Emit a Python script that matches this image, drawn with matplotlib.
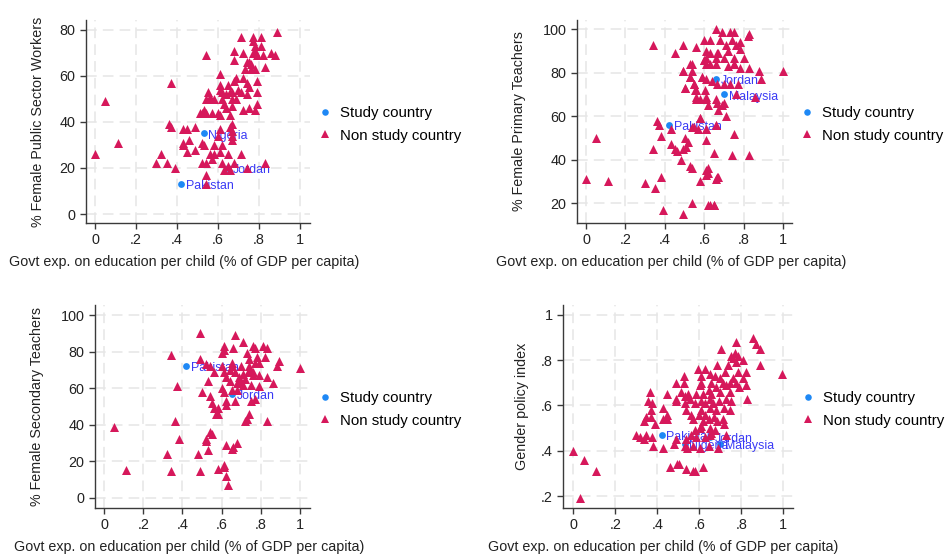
import numpy as np
import matplotlib
matplotlib.use('Agg')
import matplotlib.pyplot as plt
from matplotlib.lines import Line2D

plt.rcParams['font.family'] = ['Liberation Sans', 'DejaVu Sans']

XLABEL = 'Govt exp. on education per child (% of GDP per capita)'
XTICKS = [0, 0.2, 0.4, 0.6, 0.8, 1]
XTICKLABELS = ['0', '.2', '.4', '.6', '.8', '1']

# panel 1: female public sector workers
pub_x = [0, 0.05, 0.11, 0.30, 0.32, 0.35, 0.39, 0.36, 0.37, 0.37, 0.43, 0.45, 0.49, 0.43, 0.43,
         0.46, 0.45, 0.49, 0.52, 0.53, 0.52, 0.54, 0.54, 0.54, 0.54, 0.56, 0.58, 0.57, 0.58, 0.61,
         0.61, 0.60, 0.62, 0.62, 0.63, 0.65, 0.65, 0.66, 0.67, 0.67, 0.67, 0.66, 0.67, 0.68, 0.71,
         0.74, 0.83,
         0.52, 0.53, 0.54, 0.57, 0.60, 0.61, 0.66, 0.54, 0.56, 0.56, 0.55, 0.58, 0.61, 0.61, 0.61,
         0.62, 0.63, 0.64, 0.64, 0.65, 0.66, 0.67, 0.67, 0.68, 0.69, 0.69, 0.70, 0.71, 0.72, 0.72,
         0.74, 0.74, 0.75, 0.75, 0.78, 0.79, 0.79, 0.79, 0.73, 0.76, 0.78, 0.83, 0.68, 0.68, 0.72,
         0.71, 0.77, 0.81, 0.89, 0.77, 0.78, 0.81, 0.78, 0.77, 0.79, 0.82, 0.86, 0.88, 0.75, 0.76,
         0.74, 0.51, 0.62, 0.67]
pub_y = [26, 49, 31, 22, 26, 22, 20, 39, 57, 38, 37, 37, 38, 31, 30,
         32, 27, 28, 31, 30, 22, 22, 17, 13, 69, 26, 26, 24, 30, 27,
         37, 34, 30, 22, 19, 21, 26, 19, 36, 34, 32, 38, 39, 22, 26,
         20, 22,
         44, 45, 44, 44, 44, 43, 43, 50, 50, 51, 53, 50, 54, 56, 61,
         50, 48, 52, 46, 56, 53, 50, 47, 58, 59, 50, 54, 53, 45, 59,
         52, 57, 55, 46, 45, 48, 53, 58, 63, 63, 63, 64, 67, 71, 70,
         77, 77, 77, 79, 75, 73, 73, 71, 70, 69, 69, 70, 69, 66, 65,
         66, 44, 53, 53]
pub_names = ['Nigeria', 'Jordan', 'Pakistan']
pub_sx = [0.53, 0.65, 0.42]
pub_sy = [35, 20, 13]

# panel 2: female primary teachers
pri_x = [0, 0.05, 0.11, 0.30, 0.35, 0.34, 0.39, 0.38, 0.36, 0.37, 0.38, 0.34, 0.43, 0.45, 0.43,
         0.45, 0.46, 0.48, 0.49, 0.50, 0.49, 0.49, 0.49, 0.50, 0.52, 0.51, 0.53, 0.54, 0.54, 0.54,
         0.53, 0.53, 0.54, 0.55, 0.56, 0.56, 0.56, 0.57, 0.58, 0.58, 0.59, 0.60, 0.60, 0.61, 0.61,
         0.61, 0.61, 0.62, 0.62, 0.63, 0.65, 0.65, 0.66, 0.67, 0.66, 0.66, 0.69, 0.73, 0.75, 0.83,
         0.82, 0.63, 0.68, 0.74, 0.78, 0.63, 0.67, 0.71, 0.76, 0.72, 0.78, 0.61, 0.61, 0.60, 0.66,
         0.70, 0.75, 0.80, 0.61, 0.665, 0.75, 0.54, 0.63, 0.66, 0.72, 0.75, 0.78, 0.83, 0.88, 0.89,
         1.0, 0.49, 0.53, 0.55, 0.50, 0.59, 0.61, 0.64, 0.665, 0.70, 0.73, 0.77, 0.555, 0.605, 0.61,
         0.56, 0.58, 0.66, 0.665, 0.69, 0.70, 0.76, 0.86, 0.62, 0.67, 0.71, 0.58, 0.66, 0.55, 0.61,
         0.75, 0.74, 0.83, 0.62, 0.665, 0.61, 0.65]
pri_y = [31, 50, 30, 29, 27, 93, 17, 32, 58, 56, 51, 45, 47, 89, 54,
         45, 44, 40, 45, 50, 15, 93, 81, 73, 48, 46, 37, 36, 20, 55,
         84, 78, 81, 75, 72, 68, 92, 54, 59, 30, 78, 95, 86, 68, 49,
         54, 33, 36, 19, 19, 19, 43, 31, 32, 56, 100, 99, 99, 99, 98,
         97, 95, 95, 95, 94, 89, 89, 93, 93, 90, 91, 87, 90, 86, 87,
         87, 87, 87, 84, 89, 84, 84, 84, 84, 83, 84, 82, 82, 81, 77,
         81, 81, 78, 75, 73, 78, 77, 76, 75, 75, 75, 75, 72, 72, 69,
         69, 68, 68, 66, 65, 66, 70, 69, 65, 63, 60, 59, 56, 55, 54,
         52, 42, 42, 34, 32, 35, 19]
pri_names = ['Jordan', 'Malaysia', 'Pakistan']
pri_sx = [0.66, 0.70, 0.42]
pri_sy = [77, 70, 56]

# panel 3: female secondary teachers
sec_x = [0.05, 0.11, 0.32, 0.34, 0.34, 0.37, 0.36, 0.38, 0.48, 0.49, 0.49, 0.49, 0.50, 0.53, 0.52,
         0.52, 0.54, 0.55, 0.54, 0.53, 0.54, 0.55, 0.56, 0.58, 0.57, 0.58, 0.58, 0.61, 0.61, 0.62,
         0.63, 0.62, 0.65, 0.66, 0.68, 0.61, 0.61, 0.60, 0.60, 0.61, 0.62, 0.61, 0.62, 0.62, 0.65,
         0.65, 0.66, 0.67, 0.67, 0.64, 0.68, 0.67, 0.65, 0.68, 0.69, 0.71, 0.71, 0.72, 0.72, 0.73,
         0.74, 0.74, 0.74, 0.74, 0.73, 0.74, 0.75, 0.76, 0.77, 0.78, 0.79, 0.77, 0.76, 0.79, 0.75,
         0.79, 0.77, 0.81, 0.83, 0.82, 0.83, 0.86, 0.88, 0.89, 0.83, 1.0, 0.52, 0.56, 0.64, 0.69,
         0.71, 0.76, 0.70, 0.60]
sec_y = [39, 15.5, 24, 15, 78, 61, 42, 32, 24, 15, 90, 76, 58, 26, 32,
         31, 36, 35, 72, 64, 56, 52, 49, 49, 46, 46, 16, 17, 18, 12,
         7, 29, 27, 28, 30, 83, 81, 79, 72, 69, 66, 58, 51, 53, 74,
         72, 82, 89, 69, 64, 59, 53, 59, 63, 64, 85, 62, 65, 42, 43,
         70, 72, 69, 76, 79, 46, 53, 83, 82, 77, 74, 74, 67, 67, 62,
         61, 54, 83, 82, 77, 66, 63, 72, 75, 42, 71, 73, 69, 70, 66,
         68, 69, 72, 60]
sec_names = ['Pakistan', 'Jordan']
sec_sx = [0.42, 0.65]
sec_sy = [72, 57]

# panel 4: gender policy index
gpi_x = [0, 0.03, 0.05, 0.11,
         0.857, 0.776, 0.871, 0.887, 0.705, 0.752, 0.769, 0.784, 0.760, 0.776, 0.808, 0.737, 0.887,
         0.686, 0.594, 0.625, 0.649, 0.721, 0.784, 0.821, 0.995, 0.527, 0.606, 0.673, 0.697, 0.760,
         0.808, 0.487, 0.527, 0.606, 0.657, 0.713, 0.744, 0.776, 0.824, 0.602, 0.681, 0.729, 0.789,
         0.367, 0.514, 0.644, 0.697, 0.448, 0.546, 0.583, 0.617, 0.657, 0.744, 0.530, 0.490, 0.557,
         0.610, 0.649, 0.694, 0.729, 0.827, 0.356, 0.376, 0.490, 0.530, 0.578, 0.625, 0.665, 0.752,
         0.427, 0.537, 0.606, 0.649, 0.681, 0.717, 0.744, 0.368, 0.448, 0.562, 0.598, 0.625, 0.670,
         0.344, 0.368, 0.427, 0.446, 0.570, 0.644, 0.686, 0.713, 0.336, 0.387, 0.606, 0.617, 0.602,
         0.649, 0.717, 0.578, 0.657, 0.673, 0.300, 0.319, 0.336, 0.348, 0.376, 0.559, 0.586, 0.625,
         0.649, 0.729, 0.427, 0.479, 0.530, 0.541, 0.570, 0.605, 0.646, 0.689, 0.538, 0.459, 0.495,
         0.505, 0.538, 0.570, 0.578, 0.617, 0.381, 0.49]
gpi_y = [0.40, 0.19, 0.36, 0.31,
         0.90, 0.88, 0.87, 0.85, 0.85, 0.82, 0.83, 0.82, 0.81, 0.79, 0.80, 0.78, 0.78,
         0.78, 0.76, 0.76, 0.74, 0.75, 0.75, 0.75, 0.74, 0.73, 0.73, 0.73, 0.72, 0.72,
         0.72, 0.70, 0.70, 0.70, 0.70, 0.70, 0.70, 0.70, 0.69, 0.69, 0.68, 0.69, 0.68,
         0.66, 0.66, 0.67, 0.66, 0.65, 0.65, 0.65, 0.65, 0.65, 0.66, 0.64, 0.63, 0.63,
         0.62, 0.63, 0.62, 0.63, 0.63, 0.62, 0.61, 0.62, 0.61, 0.61, 0.61, 0.61, 0.62,
         0.59, 0.58, 0.58, 0.59, 0.58, 0.59, 0.58, 0.58, 0.56, 0.56, 0.56, 0.56, 0.55,
         0.55, 0.55, 0.54, 0.54, 0.54, 0.54, 0.53, 0.54, 0.53, 0.52, 0.51, 0.53, 0.50,
         0.50, 0.52, 0.49, 0.48, 0.49, 0.47, 0.46, 0.45, 0.47, 0.46, 0.47, 0.46, 0.46,
         0.47, 0.47, 0.41, 0.43, 0.42, 0.41, 0.42, 0.41, 0.42, 0.41, 0.45, 0.33, 0.34,
         0.34, 0.32, 0.31, 0.31, 0.33, 0.42, 0.45]
gpi_names = ['Pakistan', 'Jordan', 'Nigeria', 'Malaysia']
gpi_sx = [0.42, 0.65, 0.53, 0.70]
gpi_sy = [0.47, 0.46, 0.43, 0.43]

TRI = '#d6185b'
DOT = '#1e88f5'
LAB = '#3a3af5'
GRID = '#e6e6e6'
SPINE = '#3a3a3a'

W, H = 947, 557


def px_axes(fig, left, top, right, bottom):
    return fig.add_axes([left / W, 1 - bottom / H, (right - left) / W, (bottom - top) / H])


def draw(ax, nx, ny, names, sx, sy, xlim, ylim, yticks, yticklabels, ylabel, ylab_x, leg_x):
    ax.set_xlim(xlim)
    ax.set_ylim(ylim)
    ax.set_xticks(XTICKS)
    ax.set_xticklabels(XTICKLABELS)
    ax.set_yticks(yticks)
    ax.set_yticklabels(yticklabels)
    ax.grid(True, color=GRID, linestyle=(0, (7, 4)), linewidth=1.1, zorder=0)
    ax.set_axisbelow(True)
    for s in ['top', 'right']:
        ax.spines[s].set_visible(False)
    for s in ['left', 'bottom']:
        ax.spines[s].set_color(SPINE)
        ax.spines[s].set_linewidth(1.0)
    ax.tick_params(colors=SPINE, labelcolor='#222222', labelsize=10.4, length=4.5, width=1.0, pad=3)

    ax.scatter(sx, sy, s=24, color=DOT, marker='o', linewidths=0, zorder=2)
    for n, x, y in zip(names, sx, sy):
        ax.annotate(n, (x, y), xytext=(3.5, -1.5), textcoords='offset points',
                    va='center', ha='left', color=LAB, fontsize=8.9, zorder=2)
    ax.scatter(nx, ny, s=42, color=TRI, marker='^', linewidths=0, zorder=3)

    ax.set_xlabel(XLABEL, fontsize=10.3, color='#222222', va='center')
    ax.xaxis.set_label_coords(0.437, -0.192)
    ax.set_ylabel(ylabel, fontsize=10.3, color='#222222', va='center')
    ax.yaxis.set_label_coords(ylab_x, 0.5)

    handles = [Line2D([], [], marker='o', color=DOT, linestyle='', markersize=4.7, markeredgewidth=0),
               Line2D([], [], marker='^', color=TRI, linestyle='', markersize=6, markeredgewidth=0)]
    ax.legend(handles, ['Study country', 'Non study country'], loc='center left',
              bbox_to_anchor=(leg_x, 0.485), frameon=False, fontsize=10.8,
              handlelength=0.8, handletextpad=0.6, labelspacing=0.55,
              borderpad=0, borderaxespad=0)


def main():
    fig = plt.figure(figsize=(W / 100, H / 100), dpi=100)

    ax1 = px_axes(fig, 86, 20, 310, 223)
    draw(ax1, pub_x, pub_y, pub_names, pub_sx, pub_sy, (-0.044, 1.049), (-3.9, 84.3),
         [0, 20, 40, 60, 80], ['0', '20', '40', '60', '80'],
         '% Female Public Sector Workers', -0.214, 1.04)

    ax2 = px_axes(fig, 577, 20, 792, 223)
    draw(ax2, pri_x, pri_y, pri_names, pri_sx, pri_sy, (-0.046, 1.046), (10.8, 104.3),
         [20, 40, 60, 80, 100], ['20', '40', '60', '80', '100'],
         '% Female Primary Teachers', -0.27, 1.04)

    ax3 = px_axes(fig, 95, 305, 310, 508)
    draw(ax3, sec_x, sec_y, sec_names, sec_sx, sec_sy, (-0.046, 1.05), (-5.5, 105.5),
         [0, 20, 40, 60, 80, 100], ['0', '20', '40', '60', '80', '100'],
         '% Female Secondary Teachers', -0.27, 1.04)

    ax4 = px_axes(fig, 563, 305, 793, 508)
    draw(ax4, gpi_x, gpi_y, gpi_names, gpi_sx, gpi_sy, (-0.049, 1.046), (0.147, 1.044),
         [0.2, 0.4, 0.6, 0.8, 1.0], ['.2', '.4', '.6', '.8', '1'],
         'Gender policy index', -0.178, 1.04)

    fig.savefig('out.png', dpi=100, facecolor='white')


if __name__ == '__main__':
    main()
